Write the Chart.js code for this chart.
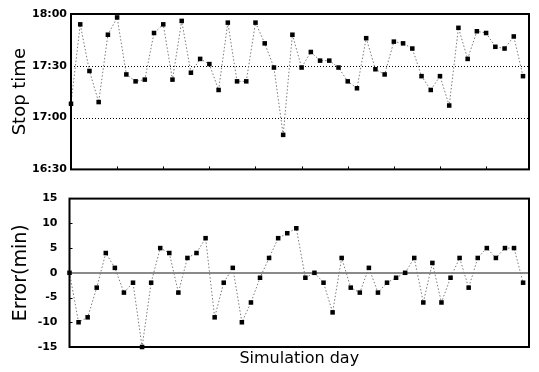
<!DOCTYPE html>
<html><head><meta charset="utf-8">
<script src="https://cdn.jsdelivr.net/npm/chart.js@4/dist/chart.umd.min.js"></script>
<style>
html,body{margin:0;padding:0;background:#fff;}
#w{position:relative;width:539px;height:372px;overflow:hidden;}
#c1w{position:absolute;left:0;top:0;width:539px;height:180px;}
#c2w{position:absolute;left:0;top:180px;width:539px;height:192px;}
</style></head><body>
<div id="w"><div id="c1w"><canvas id="c1"></canvas></div><div id="c2w"><canvas id="c2"></canvas></div></div>
<script>
// ---- data ----
const stopDays = [1,2,3,4,5,6,7,8,9,10,11,12,13,14,15,16,17,18,19,20,21,22,23,24,25,26,27,28,29,30,31,32,33,34,35,36,37,38,39,40,41,42,43,44,45,46,47,48,49,50];
const stopTimes = ["17:08","17:54","17:27","17:09","17:48","17:58","17:25","17:21","17:22","17:49",
                   "17:54","17:22","17:56","17:26","17:34","17:31","17:16","17:55","17:21","17:21",
                   "17:55","17:43","17:29","16:50","17:48","17:29","17:38","17:33","17:33","17:29",
                   "17:21","17:17","17:46","17:28","17:25","17:44","17:43","17:40","17:24","17:16",
                   "17:24","17:07","17:52","17:34","17:50","17:49","17:41","17:40","17:47","17:24"];
const errorDays = [0,1,2,3,4,5,6,7,8,9,10,11,12,13,14,15,16,17,18,19,20,21,22,23,24,25,26,27,28,29,30,31,32,33,34,35,36,37,38,39,40,41,42,43,44,45,46,47,48,49,50];
const errorValues = [0,-10,-9,-3,4,1,-4,-2,-15,-2,5,4,-4,3,4,7,-9,-2,1,-10,
                     -6,-1,3,7,8,9,-1,0,-2,-8,3,-3,-4,1,-4,-2,-1,0,3,-6,
                     2,-6,-1,3,-3,3,5,3,5,5,-2];
const stopTickLabels = ["16:30","17:00","17:30","18:00"];
const errorTickLabels = ["-15","-10","-5","0","5","10","15"];
const dayTickMarks = [6,11,16,21,26,31,36,41,46];

const toMin = s => { const p = s.split(':').map(Number); return p[0]*60 + p[1]; };

const FONT = "'DejaVu Sans', 'Liberation Sans', sans-serif";

const framePlugin = {
  id: 'frame',
  beforeDatasetsDraw(chart, args, o) {
    const {ctx, chartArea: a, scales} = chart;
    ctx.save();
    (o.dotted || []).forEach(v => {
      const py = Math.round(scales.y.getPixelForValue(v)) + 0.5;
      ctx.setLineDash([1, 2]); ctx.strokeStyle = '#000'; ctx.lineWidth = 1;
      ctx.beginPath(); ctx.moveTo(a.left, py); ctx.lineTo(a.right, py); ctx.stroke();
    });
    (o.solid || []).forEach(v => {
      const py = Math.round(scales.y.getPixelForValue(v));
      ctx.setLineDash([]); ctx.strokeStyle = '#8a8a8a'; ctx.lineWidth = 2;
      ctx.beginPath(); ctx.moveTo(a.left, py); ctx.lineTo(a.right, py); ctx.stroke();
    });
    ctx.restore();
  },
  afterDraw(chart, args, o) {
    const {ctx, chartArea: a, scales} = chart;
    ctx.save();
    ctx.setLineDash([]); ctx.strokeStyle = '#000'; ctx.lineWidth = 2;
    ctx.strokeRect(a.left, a.top, a.right - a.left, a.bottom - a.top);
    ctx.lineWidth = 1;
    (o.xTicks || []).forEach(v => {
      const px = Math.round(scales.x.getPixelForValue(v)) + 0.5;
      ctx.beginPath(); ctx.moveTo(px, a.bottom); ctx.lineTo(px, a.bottom - 3); ctx.stroke();
    });
    (o.yTicks || []).forEach(v => {
      const py = Math.round(scales.y.getPixelForValue(v)) + 0.5;
      ctx.beginPath(); ctx.moveTo(a.left, py); ctx.lineTo(a.left + 3, py); ctx.stroke();
    });
    ctx.restore();
  }
};

const lineStyle = {
  borderColor: '#7a7a7a', borderWidth: 1, borderDash: [1.5, 2],
  pointStyle: 'rect', pointRadius: 3.2, pointBackgroundColor: '#000',
  pointBorderWidth: 0, tension: 0, clip: false
};

new Chart(document.getElementById('c1'), {
  type: 'line',
  data: { datasets: [Object.assign({
    data: stopDays.map((d, i) => ({x: d, y: toMin(stopTimes[i])}))
  }, lineStyle)] },
  options: {
    responsive: true, maintainAspectRatio: false, animation: false, devicePixelRatio: 1,
    layout: { padding: {left: 0, right: 10, top: 14, bottom: 7} },
    plugins: { legend: {display: false}, tooltip: {enabled: false},
      frame: { dotted: [1020, 1050], xTicks: dayTickMarks } },
    scales: {
      x: { type: 'linear', min: 1, max: 50.65, display: false },
      y: { min: 990, max: 1080,
        grid: {display: false, drawTicks: false}, border: {display: false},
        ticks: { stepSize: 30, padding: 4, color: '#000',
          font: {family: FONT, size: 11, weight: 'bold'},
          callback: (v, i) => stopTickLabels[i] },
        title: { display: true, text: 'Stop time', color: '#000',
          font: {family: FONT, size: 18}, padding: {top: 9.5, bottom: 0} },
        afterFit(s) { s.width = 71; } }
    }
  },
  plugins: [framePlugin]
});

new Chart(document.getElementById('c2'), {
  type: 'line',
  data: { datasets: [Object.assign({
    data: errorDays.map((d, i) => ({x: d, y: errorValues[i]}))
  }, lineStyle)] },
  options: {
    responsive: true, maintainAspectRatio: false, animation: false, devicePixelRatio: 1,
    layout: { padding: {left: 0, right: 10, top: 12, bottom: 0} },
    plugins: { legend: {display: false}, tooltip: {enabled: false},
      frame: { solid: [0], yTicks: [-10, -5, 5, 10] } },
    scales: {
      x: { type: 'linear', min: 0, max: 50.65,
        grid: {display: false, drawTicks: false}, border: {display: false},
        ticks: {display: false},
        title: { display: true, text: 'Simulation day', color: '#000',
          font: {family: FONT, size: 16}, padding: {top: 0, bottom: 3.4} },
        afterFit(s) { s.height = 25; } },
      y: { min: -15, max: 15,
        grid: {display: false, drawTicks: false}, border: {display: false},
        ticks: { stepSize: 5, padding: 12, color: '#000',
          font: {family: FONT, size: 11, weight: 'bold'},
          callback: (v, i) => errorTickLabels[i] },
        title: { display: true, text: 'Error(min)', color: '#000',
          font: {family: FONT, size: 19}, padding: {top: 9.5, bottom: 0} },
        afterFit(s) { s.width = 69.5; } }
    }
  },
  plugins: [framePlugin]
});
</script>
</body></html>
